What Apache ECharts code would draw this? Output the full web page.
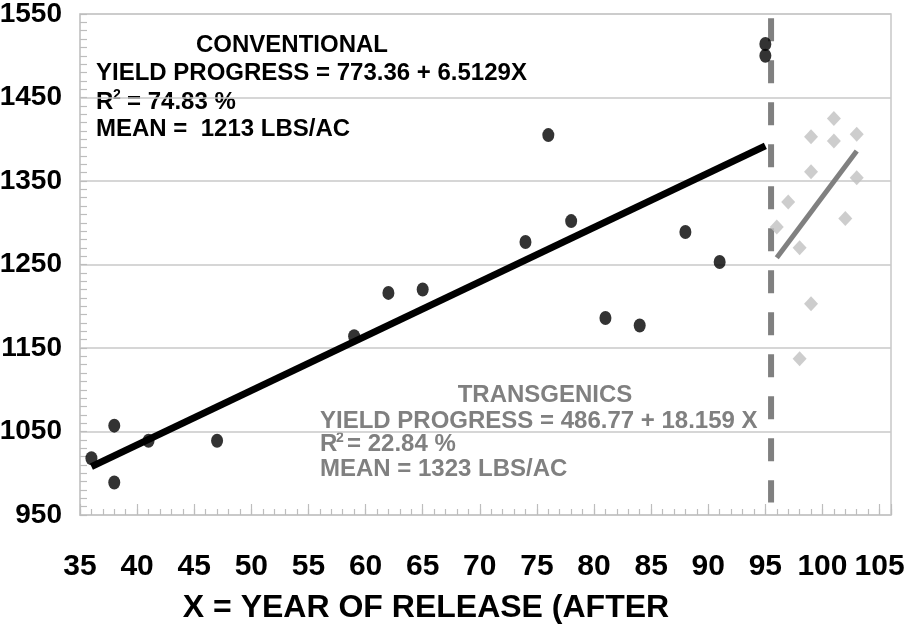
<!DOCTYPE html>
<html>
<head>
<meta charset="utf-8">
<style>
  html, body { margin: 0; padding: 0; background: #fff; }
  #chart { width: 905px; height: 624px; }
</style>
<script src="https://cdn.jsdelivr.net/npm/echarts@6/dist/echarts.min.js"></script>
</head>
<body>
<div id="chart"></div>
<script>
// conventional cultivars
var convX = [36, 38, 38, 41, 47, 59, 62, 65, 74, 76, 78, 81, 84, 88, 91, 95, 95];
var convY = [1018, 1057, 989, 1039, 1039, 1164, 1216, 1220, 1277, 1405, 1302, 1186, 1177, 1289, 1253, 1514, 1500];
// transgenic cultivars
var tgX = [96, 97, 98, 98, 99, 99, 99, 101, 101, 102, 103, 103];
var tgY = [1295, 1325, 1270, 1137, 1403, 1361, 1203, 1425, 1398, 1305, 1406, 1354];
// fitted lines (end points)
var convTrendX = [36, 95];
var convTrendY = [1008, 1392];
var tgTrendX = [96, 103];
var tgTrendY = [1258, 1386];
// divider between the two groups
var dividerX = [95.5, 95.5];
var dividerY = [1545, 965];

var xMin = 35, xMax = 106, yMin = 950, yMax = 1550;

function pairs(xs, ys) {
  return xs.map(function(x, i) { return [x, ys[i]]; });
}

var gridGray = '#c8c8c8';
var darkGray = '#808080';
var textFont = '"Liberation Sans", Arial, sans-serif';

function txt(x, y, s, size, color, align) {
  return {
    type: 'text', x: x, y: y, silent: true,
    style: {
      text: s, fill: color,
      font: 'bold ' + size + 'px ' + textFont,
      textAlign: align || 'left', align: align || 'left',
      textVerticalAlign: 'middle', verticalAlign: 'middle'
    }
  };
}

var chart = echarts.init(document.getElementById('chart'), null, { renderer: 'canvas' });
chart.setOption({
  animation: false,
  backgroundColor: '#fff',
  grid: {
    left: 80, right: 14, top: 14, bottom: 109,
    outerBoundsMode: 'none', containLabel: false,
    show: true, borderColor: gridGray, borderWidth: 1.5
  },
  xAxis: [{
    type: 'value', min: xMin, max: xMax, interval: 1,
    axisLine: { show: true, lineStyle: { color: gridGray, width: 1.5 } },
    axisTick: { show: true, inside: true, length: 6, lineStyle: { color: '#bdbdbd', width: 1.2 } },
    splitLine: { show: false },
    axisLabel: {
      margin: 37, color: '#000', fontWeight: 'bold', fontSize: 30, fontFamily: textFont,
      formatter: function(v) { return v % 5 === 0 ? String(v) : ''; }
    }
  }, {
    type: 'value', min: xMin, max: xMax, interval: 5, position: 'bottom',
    axisLine: { show: false },
    axisTick: { show: true, inside: true, length: 11, lineStyle: { color: '#bdbdbd', width: 1.2 } },
    splitLine: { show: false },
    axisLabel: { show: false }
  }],
  yAxis: {
    type: 'value', min: yMin, max: yMax, interval: 100,
    axisLine: { show: true, lineStyle: { color: gridGray, width: 1.5 } },
    axisTick: { show: true, inside: true, length: 7, lineStyle: { color: '#bdbdbd', width: 1.2 } },
    minorTick: { show: true, splitNumber: 10, length: 7, lineStyle: { color: '#bdbdbd', width: 1.2 } },
    splitLine: { show: true, lineStyle: { color: gridGray, width: 1.5 } },
    axisLabel: {
      margin: 18, color: '#000', fontWeight: 'bold', fontSize: 28, fontFamily: textFont,
      formatter: function(v) { return String(v); }
    }
  },
  graphic: [
    txt(292, 45, 'CONVENTIONAL', 24, '#000', 'center'),
    txt(96, 73, 'YIELD PROGRESS = 773.36 + 6.5129X', 24, '#000'),
    txt(96, 102, 'R', 24, '#000'),
    txt(113, 95, '2', 14, '#000'),
    txt(127, 102, '= 74.83 %', 24, '#000'),
    txt(96, 129, 'MEAN =  1213 LBS/AC', 24, '#000'),
    txt(545, 395, 'TRANSGENICS', 24, darkGray, 'center'),
    txt(320, 421.5, 'YIELD PROGRESS = 486.77 + 18.159 X', 24, darkGray),
    txt(320, 444.5, 'R', 24, darkGray),
    txt(336, 438, '2', 14, darkGray),
    txt(347, 444.5, '= 22.84 %', 24, darkGray),
    txt(320, 469.5, 'MEAN = 1323 LBS/AC', 24, darkGray),
    txt(426, 608, 'X = YEAR OF RELEASE (AFTER', 32, '#000', 'center')
  ],
  series: [{
    type: 'line', data: pairs(dividerX, dividerY), symbol: 'none', z: 1,
    lineStyle: { color: darkGray, width: 6, type: [23, 19], cap: 'butt' }
  }, {
    type: 'line', data: pairs(convTrendX, convTrendY), symbol: 'none', z: 2,
    lineStyle: { color: '#000', width: 7, cap: 'butt' }
  }, {
    type: 'scatter', data: pairs(tgX, tgY), symbol: 'diamond', symbolSize: [14, 15], z: 3,
    itemStyle: { color: '#c0c0c0' }
  }, {
    type: 'line', data: pairs(tgTrendX, tgTrendY), symbol: 'none', z: 4,
    lineStyle: { color: darkGray, width: 5, cap: 'butt' }
  }, {
    type: 'scatter', data: pairs(convX, convY), symbol: 'circle', symbolSize: [12, 14], z: 5,
    itemStyle: { color: '#000' }
  }]
});

window.addEventListener('resize', function() { chart.resize(); });
</script>
</body>
</html>
